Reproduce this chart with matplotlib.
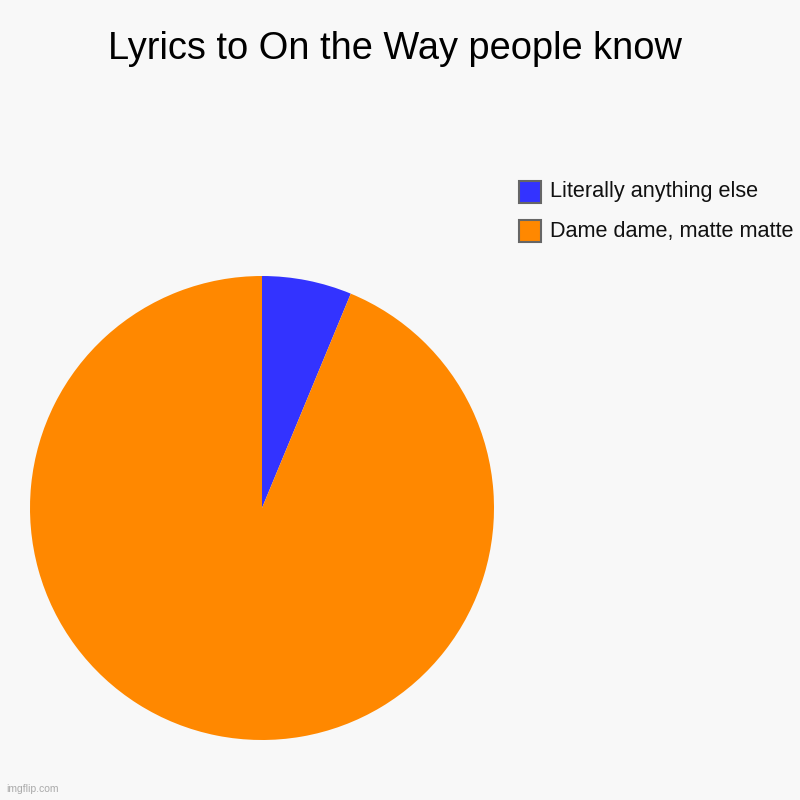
import matplotlib.pyplot as plt
from matplotlib.patches import Rectangle

labels = ['Literally anything else', 'Dame dame, matte matte']
values = [1, 15]
colors = ['#3333ff', '#ff8800']
title = 'Lyrics to On the Way people know'

plt.rcParams['font.family'] = ['Liberation Sans', 'DejaVu Sans']

fig = plt.figure(figsize=(8, 8), dpi=100)
fig.patch.set_facecolor('#f8f8f8')

ax = fig.add_axes([0.0375, 0.075, 0.58, 0.58])
ax.pie(values, colors=colors, startangle=90, counterclock=False, radius=1)
ax.set_xlim(-1, 1)
ax.set_ylim(-1, 1)
ax.set_aspect('equal')
ax.axis('off')

fig.text(0.494, 1 - 49 / 800, title, ha='center', va='center', fontsize=27.4, color='#000000')

# legend, drawn by hand to match the imgflip look
for i, (lab, col) in enumerate(zip(labels, colors)):
    y = 1 - (192 + i * 39) / 800
    fig.patches.append(Rectangle((519 / 800, y - 11 / 800), 22 / 800, 22 / 800,
                                 transform=fig.transFigure, facecolor=col,
                                 edgecolor='#666666', linewidth=1.5))
    fig.text(550 / 800, y, lab, ha='left', va='center', fontsize=15.6, color='#111111')

fig.text(0.008, 0.008, 'imgflip.com', ha='left', va='bottom', fontsize=7.5, color='#aaaaaa')

fig.savefig('out.png', dpi=100, facecolor=fig.get_facecolor())
